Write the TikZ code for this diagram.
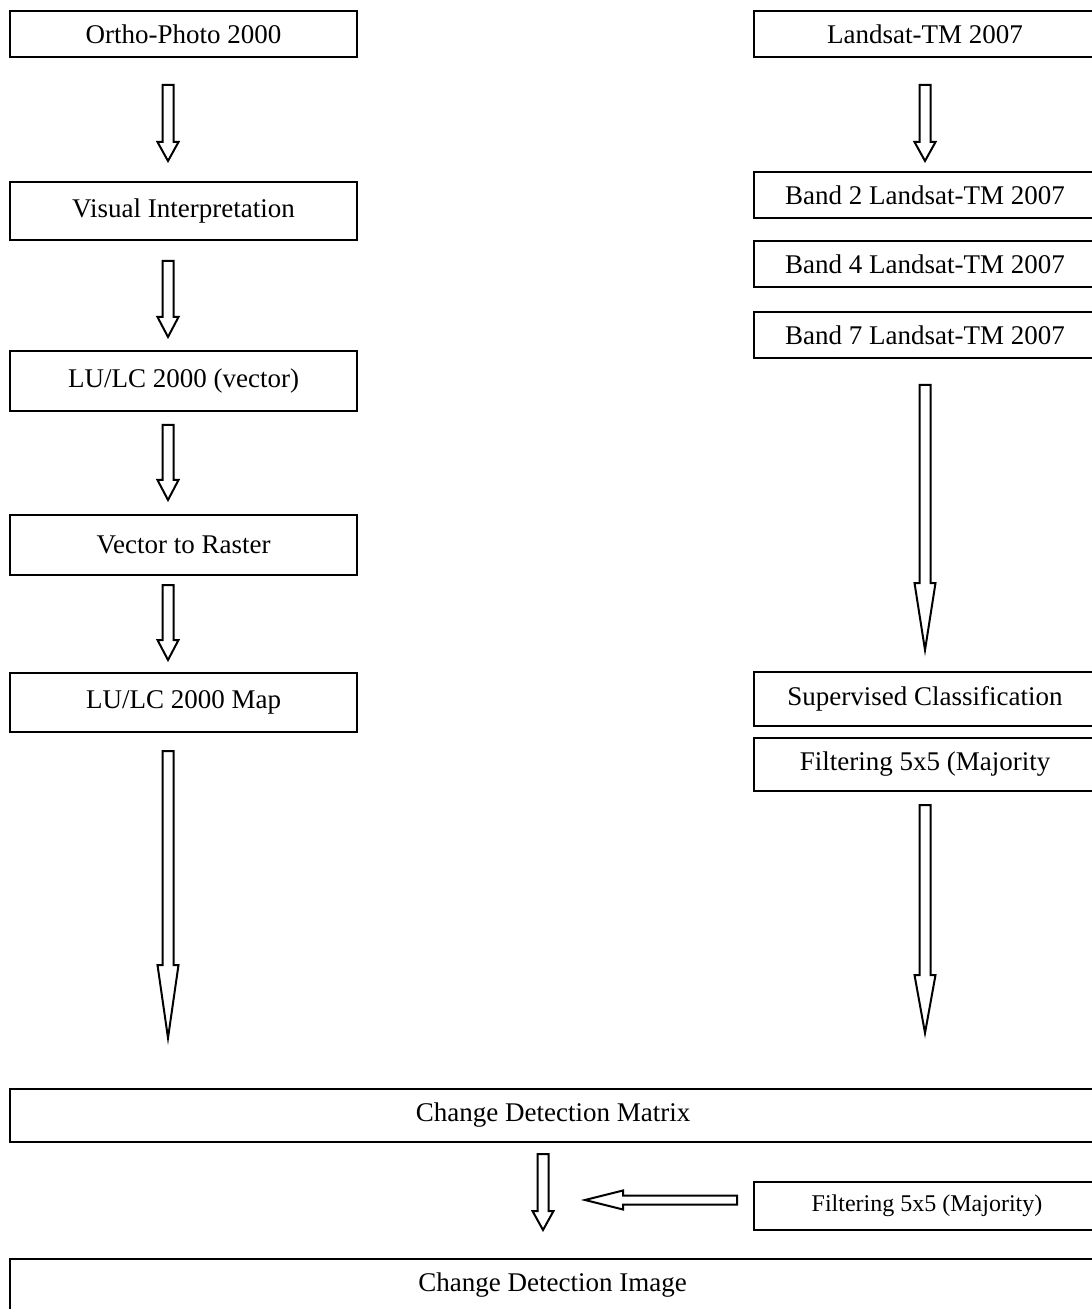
\documentclass[tikz,border=0pt]{standalone}
\usepackage{fontspec}
\setmainfont{Liberation Serif}
\usepackage{tikz}
\usetikzlibrary{calc}

% hollow block arrow pointing down: start, tip, head length (px)
\newcommand{\downblk}[3]{%
  \draw[blkarrow] let \p1=(#1), \p2=(#2) in
    (\x1-2.75pt,\y1) -- (\x1+2.75pt,\y1) -- (\x1+2.75pt,\y2+#3*0.5pt)
    -- (\x1+5.25pt,\y2+#3*0.5pt) -- (\x1,\y2) -- (\x1-5.25pt,\y2+#3*0.5pt)
    -- (\x1-2.75pt,\y2+#3*0.5pt) -- cycle;}
% hollow block arrow pointing left: tail, tip, head length (px)
\newcommand{\leftblk}[3]{%
  \draw[blkarrow] let \p1=(#1), \p2=(#2) in
    (\x1,\y1-2.25pt) -- (\x1,\y1+2.25pt) -- (\x2+#3*0.5pt,\y1+2.25pt)
    -- (\x2+#3*0.5pt,\y1+4.75pt) -- (\x2,\y1) -- (\x2+#3*0.5pt,\y1-4.75pt)
    -- (\x2+#3*0.5pt,\y1-2.25pt) -- cycle;}

\tikzset{
  procbox/.style={draw, line width=1pt, inner sep=0pt, align=center,
    font=\fontsize{13.5}{16}\selectfont},
  leftbox/.style={procbox, minimum width=173.5pt},
  rightbox/.style={procbox, minimum width=171pt},
  widebox/.style={procbox, minimum width=543pt},
  blkarrow/.style={draw, line width=1pt, line join=miter, fill=white}
}

\begin{document}
\begin{tikzpicture}[x=0.5pt, y=-0.5pt]
    \useasboundingbox (0,0) rectangle (1091,1309);

    % Left column (Ortho-Photo)
    \node[leftbox, minimum height=23pt] (ortho) at (183.5,34) {Ortho-Photo 2000};
    \node[leftbox, minimum height=29pt] (visual) at (183.5,211) {Visual Interpretation};
    \node[leftbox, minimum height=30pt] (luvec) at (183.5,381) {LU/LC 2000 (vector)};
    \node[leftbox, minimum height=30pt] (vecras) at (183.5,545) {Vector to Raster};
    \node[leftbox, minimum height=29.5pt] (lumap) at (183.5,702) {LU/LC 2000 Map};

    % Right column (Landsat)
    \node[rightbox, minimum height=23pt] (landsat) at (925,34) {Landsat-TM 2007};
    \node[rightbox, minimum height=23pt] (band2) at (925,195) {Band 2 Landsat-TM 2007};
    \node[rightbox, minimum height=23pt] (band4) at (925,264) {Band 4 Landsat-TM 2007};
    \node[rightbox, minimum height=23pt] (band7) at (925,335) {Band 7 Landsat-TM 2007};
    \node[rightbox, minimum height=27pt] (superv) at (925,699) {Supervised Classification};
    \node[rightbox, minimum height=26.5pt] (filtA) at (925,764.5) {Filtering 5x5 (Majority};

    % Bottom part
    \node[widebox, minimum height=26.5pt] (matrix) at (553,1115.5) {Change Detection Matrix};
    \node[rightbox, minimum width=173pt, minimum height=24pt, font=\fontsize{12}{14}\selectfont] (filtB) at (927,1206) {Filtering 5x5 (Majority)};
    \node[widebox, minimum height=26pt] (cdimage) at (552.5,1285) {Change Detection Image};

    % Arrow ends
    \foreach \n/\x/\ya/\yb in {la/168/85/161, lb/168/261/337, lc/168/425/500, ld/168/585/660, le/168/751/1038,
                               ra/925/85/161, rb/925/385/650, rc/925/805/1033, ma/543/1154/1230} {
        \coordinate (\n s) at (\x,\ya);
        \coordinate (\n e) at (\x,\yb);
    }
    \coordinate (fs) at (737,1200);
    \coordinate (fe) at (585,1200);

    % Arrows
    \downblk{las}{lae}{19}
    \downblk{lbs}{lbe}{20}
    \downblk{lcs}{lce}{20}
    \downblk{lds}{lde}{20}
    \downblk{les}{lee}{73}
    \downblk{ras}{rae}{19}
    \downblk{rbs}{rbe}{67}
    \downblk{rcs}{rce}{58}
    \downblk{mas}{mae}{19}
    \leftblk{fs}{fe}{38}
\end{tikzpicture}
\end{document}
